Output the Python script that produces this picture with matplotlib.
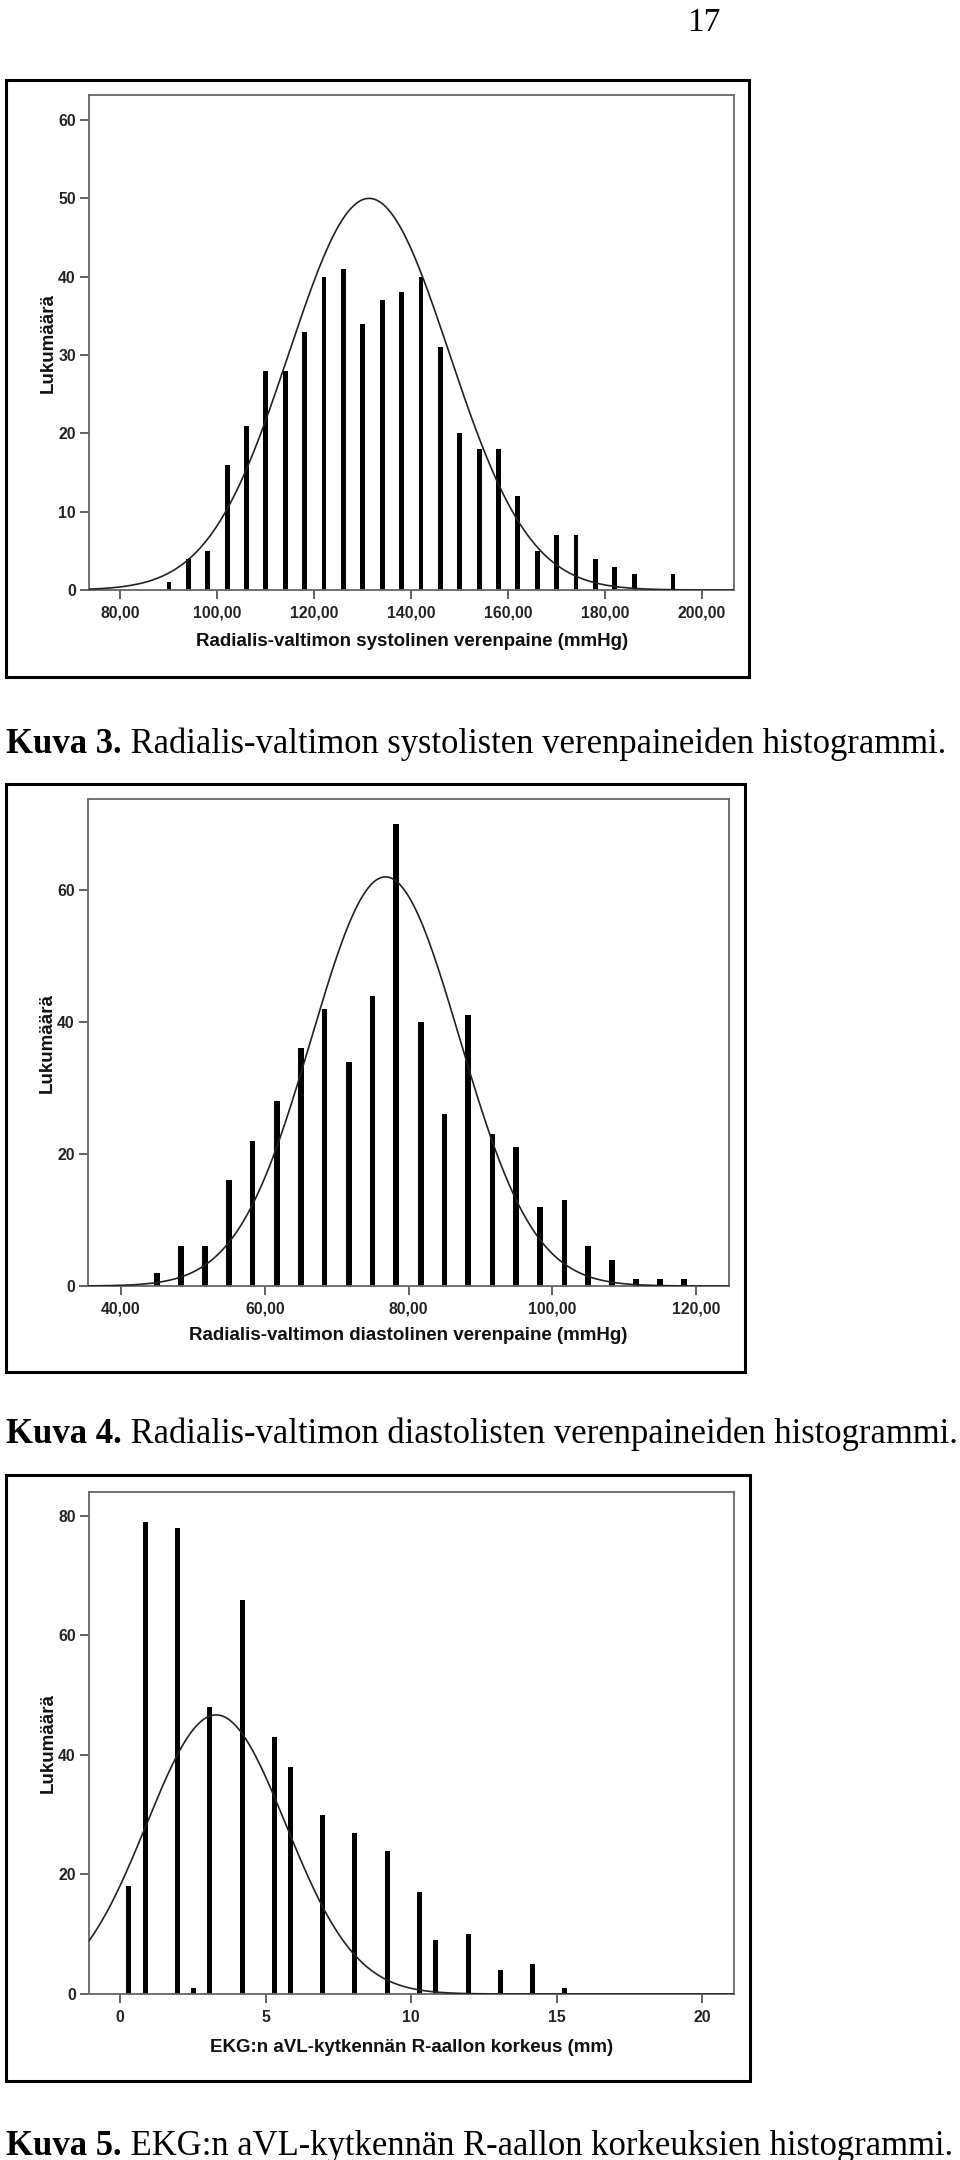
import matplotlib.pyplot as plt
import numpy as np
from matplotlib.patches import Rectangle

W, H = 960, 2160
DPI = 100

# Kuva 3: systolinen verenpaine
sys_x = [90, 94, 98, 102, 106, 110, 114, 118, 122, 126, 130, 134, 138,
         142, 146, 150, 154, 158, 162, 166, 170, 174, 178, 182, 186, 194]
sys_n = [1, 4, 5, 16, 21, 28, 28, 33, 40, 41, 34, 37, 38,
         40, 31, 20, 18, 18, 12, 5, 7, 7, 4, 3, 2, 2]
sys_curve = (131.3, 16.5, 50.0)  # keskiarvo, keskihajonta, huippu
sys_xticks = [80, 100, 120, 140, 160, 180, 200]
sys_yticks = [0, 10, 20, 30, 40, 50, 60]

# Kuva 4: diastolinen verenpaine
dia_x = [45.0, 48.3, 51.7, 55.0, 58.3, 61.7, 65.0, 68.3, 71.7, 75.0, 78.3, 81.7,
         85.0, 88.3, 91.7, 95.0, 98.3, 101.7, 105.0, 108.3, 111.7, 115.0, 118.3]
dia_n = [2, 6, 6, 16, 22, 28, 36, 42, 34, 44, 70, 40,
         26, 41, 23, 21, 12, 13, 6, 4, 1, 1, 1]
dia_curve = (76.8, 10.3, 62.0)
dia_xticks = [40, 60, 80, 100, 120]
dia_yticks = [0, 20, 40, 60]

# Kuva 5: aVL R-aalto
ekg_x = [0.30, 0.86, 1.97, 2.52, 3.08, 4.19, 5.30, 5.85, 6.96, 8.07,
         9.18, 10.29, 10.85, 11.96, 13.07, 14.18, 15.29]
ekg_n = [18, 79, 78, 1, 48, 66, 43, 38, 30, 27, 24, 17, 9, 10, 4, 5, 1]
ekg_curve = (3.3, 2.4, 46.7)
ekg_xticks = [0, 5, 10, 15, 20]
ekg_yticks = [0, 20, 40, 60, 80]

captions = [
    ("Kuva 3.", " Radialis-valtimon systolisten verenpaineiden histogrammi."),
    ("Kuva 4.", " Radialis-valtimon diastolisten verenpaineiden histogrammi."),
    ("Kuva 5.", " EKG:n aVL-kytkennän R-aallon korkeuksien histogrammi."),
]
xlabels = [
    "Radialis-valtimon systolinen verenpaine (mmHg)",
    "Radialis-valtimon diastolinen verenpaine (mmHg)",
    "EKG:n aVL-kytkennän R-aallon korkeus (mm)",
]

SANS = ['Liberation Sans', 'DejaVu Sans']
SERIF = ['Liberation Serif', 'DejaVu Serif']

fig = plt.figure(figsize=(W / DPI, H / DPI), dpi=DPI)


def fx(px):
    return px / W


def fy(py):
    return 1 - py / H


def frame(l, t, r, b):
    fig.add_artist(Rectangle((fx(l), fy(b)), fx(r - l), (b - t) / H,
                             transform=fig.transFigure, fill=False,
                             lw=2.2, ec='black'))


def panel(box, xs, ns, barw, curve, xlim, ylim, xticks, yticks, fmt,
          xlabel, xl_pos, yl_pos):
    l, t, r, b = box
    ax = fig.add_axes([fx(l), fy(b), fx(r - l), (b - t) / H])
    ax.bar(xs, ns, width=barw, color='black', zorder=2)
    mu, sd, peak = curve
    xx = np.linspace(xlim[0], xlim[1], 400)
    ax.plot(xx, peak * np.exp(-0.5 * ((xx - mu) / sd) ** 2),
            color='#222222', lw=1.2, zorder=3)
    ax.set_xlim(*xlim)
    ax.set_ylim(*ylim)
    ax.set_xticks(xticks)
    ax.set_xticklabels([fmt(v) for v in xticks])
    ax.set_yticks(yticks)
    ax.set_yticklabels([str(v) for v in yticks])
    for s in ax.spines.values():
        s.set_color('#666666')
        s.set_linewidth(1.3)
    ax.tick_params(direction='out', length=6.5, width=1.3, color='#555555',
                   labelsize=11.3, pad=3)
    for lab in ax.get_xticklabels() + ax.get_yticklabels():
        lab.set_fontfamily(SANS)
        lab.set_fontweight('bold')
        lab.set_color('#222222')
    ax.tick_params(axis='x', pad=5)
    fig.text(fx(xl_pos[0]), fy(xl_pos[1]), xlabel, ha='center', va='center',
             fontsize=13.5, fontweight='bold', family=SANS, color='#111111')
    fig.text(fx(yl_pos[0]), fy(yl_pos[1]), 'Lukumäärä', ha='center',
             va='center', rotation=90, fontsize=13.5, fontweight='bold',
             family=SANS, color='#111111')
    return ax


def caption(x, base, bold, rest):
    renderer = fig.canvas.get_renderer()
    t1 = fig.text(fx(x), fy(base), bold, ha='left', va='baseline',
                  fontsize=24.9, fontweight='bold', family=SERIF)
    bb = t1.get_window_extent(renderer=renderer)
    fig.text(bb.x1 / W, fy(base), rest, ha='left', va='baseline',
             fontsize=24.9, family=SERIF)


def comma2(v):
    return f"{v:.2f}".replace('.', ',')


# sivunumero
fig.text(fx(721), fy(31), "17", ha='right', va='baseline', fontsize=24,
         family=SERIF)

frame(6, 80, 749, 677)
panel((89, 95, 734, 590), sys_x, sys_n, 1.0, sys_curve, (73.5, 206.6),
      (0, 63.2), sys_xticks, sys_yticks, comma2, xlabels[0],
      (412, 641), (48, 343))
caption(6, 753, *captions[0])

frame(6, 784, 745, 1372)
panel((88, 799, 729, 1286), dia_x, dia_n, 0.78, dia_curve, (35.4, 124.6),
      (0, 73.8), dia_xticks, dia_yticks, comma2, xlabels[1],
      (408, 1336), (47.5, 1043))
caption(6, 1443, *captions[1])

frame(6, 1475, 750, 2081)
panel((89, 1492, 734, 1994), ekg_x, ekg_n, 0.17, ekg_curve, (-1.07, 21.1),
      (0, 84.0), ekg_xticks, ekg_yticks, lambda v: str(v), xlabels[2],
      (412, 2047), (48, 1743))
caption(6, 2155, *captions[2])

fig.savefig('out.png', dpi=DPI)
